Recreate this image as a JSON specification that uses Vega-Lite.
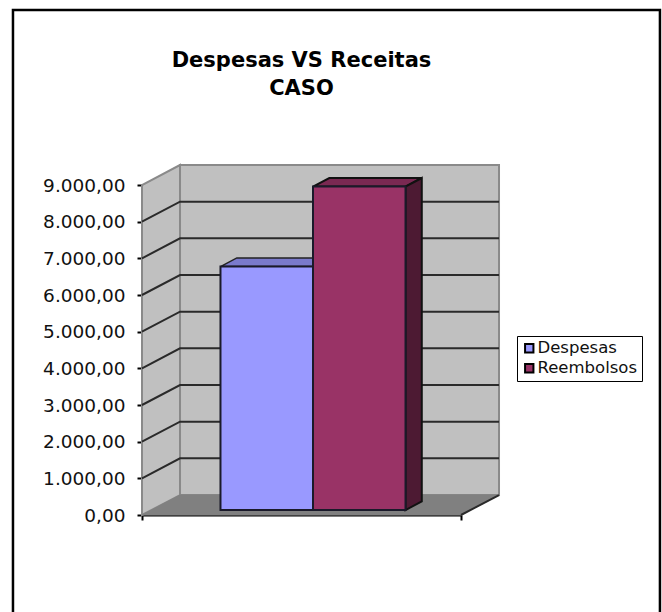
{
"$schema":"https://vega.github.io/schema/vega-lite/v6.json",
"width":319,"height":330,
"autosize":{"type":"none"},
"padding":{"left":142,"top":185,"right":201,"bottom":97},
"background":"white",
"config":{"view":{"stroke":null},"font":"DejaVu Sans"},
"title":{"text":["Despesas VS Receitas","CASO"],"font":"DejaVu Sans","fontWeight":"bold","fontSize":21,"lineHeight":28,"color":"black","anchor":"middle","frame":"group","offset":-94},
"datasets":{
"valores":[{"serie":"Despesas","valor":6640},{"serie":"Reembolsos","valor":8820}],
"paredes":[
{"plano":"lateral","ordem":1,"pos":-0.746,"alt":0},{"plano":"lateral","ordem":2,"pos":-0.335,"alt":545},{"plano":"lateral","ordem":3,"pos":-0.335,"alt":9545},{"plano":"lateral","ordem":4,"pos":-0.746,"alt":9000},
{"plano":"fundo","ordem":1,"pos":-0.335,"alt":545},{"plano":"fundo","ordem":2,"pos":3.114,"alt":545},{"plano":"fundo","ordem":3,"pos":3.114,"alt":9545},{"plano":"fundo","ordem":4,"pos":-0.335,"alt":9545}],
"piso":[{"ordem":1,"pos":-0.746,"alt":0},{"ordem":2,"pos":2.703,"alt":0},{"ordem":3,"pos":3.114,"alt":545},{"ordem":4,"pos":-0.335,"alt":545}],
"grade":[
{"v":1000,"ordem":1,"pos":-0.746,"alt":1000},{"v":1000,"ordem":2,"pos":-0.335,"alt":1545},{"v":1000,"ordem":3,"pos":3.114,"alt":1545},
{"v":2000,"ordem":1,"pos":-0.746,"alt":2000},{"v":2000,"ordem":2,"pos":-0.335,"alt":2545},{"v":2000,"ordem":3,"pos":3.114,"alt":2545},
{"v":3000,"ordem":1,"pos":-0.746,"alt":3000},{"v":3000,"ordem":2,"pos":-0.335,"alt":3545},{"v":3000,"ordem":3,"pos":3.114,"alt":3545},
{"v":4000,"ordem":1,"pos":-0.746,"alt":4000},{"v":4000,"ordem":2,"pos":-0.335,"alt":4545},{"v":4000,"ordem":3,"pos":3.114,"alt":4545},
{"v":5000,"ordem":1,"pos":-0.746,"alt":5000},{"v":5000,"ordem":2,"pos":-0.335,"alt":5545},{"v":5000,"ordem":3,"pos":3.114,"alt":5545},
{"v":6000,"ordem":1,"pos":-0.746,"alt":6000},{"v":6000,"ordem":2,"pos":-0.335,"alt":6545},{"v":6000,"ordem":3,"pos":3.114,"alt":6545},
{"v":7000,"ordem":1,"pos":-0.746,"alt":7000},{"v":7000,"ordem":2,"pos":-0.335,"alt":7545},{"v":7000,"ordem":3,"pos":3.114,"alt":7545},
{"v":8000,"ordem":1,"pos":-0.746,"alt":8000},{"v":8000,"ordem":2,"pos":-0.335,"alt":8545},{"v":8000,"ordem":3,"pos":3.114,"alt":8545},
{"v":0,"ordem":1,"pos":2.703,"alt":0},{"v":0,"ordem":2,"pos":3.114,"alt":545}],
"faces":[
{"face":"topoD","ordem":1,"pos":0.103,"alt":6776},{"face":"topoD","ordem":2,"pos":1.103,"alt":6776},{"face":"topoD","ordem":3,"pos":1.279,"alt":7011},{"face":"topoD","ordem":4,"pos":0.279,"alt":7011},
{"face":"topoR","ordem":1,"pos":1.103,"alt":8956},{"face":"topoR","ordem":2,"pos":2.103,"alt":8956},{"face":"topoR","ordem":3,"pos":2.279,"alt":9191},{"face":"topoR","ordem":4,"pos":1.279,"alt":9191},
{"face":"ladoR","ordem":1,"pos":2.103,"alt":136},{"face":"ladoR","ordem":2,"pos":2.279,"alt":371},{"face":"ladoR","ordem":3,"pos":2.279,"alt":9191},{"face":"ladoR","ordem":4,"pos":2.103,"alt":8956}],
"moldura":[{"ordem":1,"pos":-2.141,"alt":-2800},{"ordem":2,"pos":-2.141,"alt":13773},{"ordem":3,"pos":4.854,"alt":13773},{"ordem":4,"pos":4.854,"alt":-2800}]
},
"resolve":{"scale":{"x":"independent","y":"independent"},"axis":{"x":"independent","y":"independent"}},
"layer":[
{
"encoding":{
"x":{"field":"pos","type":"quantitative","scale":{"domain":[-0.746,2.703],"nice":false,"zero":false},
 "axis":{"title":null,"values":[-0.746,2.703],"labels":false,"grid":false,"domainColor":"black","domainWidth":2,"tickColor":"black","tickWidth":2,"tickSize":5}},
"y":{"field":"alt","type":"quantitative","scale":{"domain":[0,9000],"nice":false},
 "axis":{"title":null,"values":[0,1000,2000,3000,4000,5000,6000,7000,8000,9000],"grid":false,"domainColor":"black","domainWidth":2,"tickColor":"black","tickWidth":2,"tickSize":5,"labelFont":"DejaVu Sans","labelFontSize":18.5,"labelColor":"#111","labelPadding":12,"labelOverlap":false,
 "labelExpr":"replace(format(datum.value,',d'),',','.')+',00'"}},
"order":{"field":"ordem","type":"quantitative"}
},
"layer":[
{"data":{"name":"moldura"},"mark":{"type":"line","stroke":"black","strokeWidth":2.5,"clip":false}},
{"data":{"name":"paredes"},"mark":{"type":"line","interpolate":"linear-closed","fill":"#C0C0C0","stroke":"#8A8A8A","strokeWidth":2},"encoding":{"detail":{"field":"plano"}}},
{"data":{"name":"piso"},"mark":{"type":"line","interpolate":"linear-closed","fill":"#808080","stroke":"#808080","strokeWidth":1}},
{"data":{"name":"grade"},"mark":{"type":"line","stroke":"#2A2A2A","strokeWidth":2},"encoding":{"detail":{"field":"v"}}},
{"data":{"name":"faces"},"transform":[{"filter":"datum.face=='topoD'"}],"mark":{"type":"line","interpolate":"linear-closed","fill":"#7A7ACC","stroke":"#222","strokeWidth":1.5}},
{"data":{"name":"faces"},"transform":[{"filter":"datum.face=='topoR'"}],"mark":{"type":"line","interpolate":"linear-closed","fill":"#7A2952","stroke":"#111","strokeWidth":2}},
{"data":{"name":"faces"},"transform":[{"filter":"datum.face=='ladoR'"}],"mark":{"type":"line","interpolate":"linear-closed","fill":"#4D1A33","stroke":"#111","strokeWidth":2}}
]
},
{
"data":{"name":"valores"},
"mark":{"type":"bar","stroke":"#1a1a2a","strokeWidth":2},
"encoding":{
"x":{"field":"serie","type":"nominal","sort":null,"scale":{"paddingInner":0,"paddingOuter":0.724,"range":[11.5,330.5]},"axis":null},
"y":{"field":"valor","type":"quantitative","stack":null,"scale":{"domain":[0,9000],"nice":false,"range":[325,-5]},"axis":null},
"color":{"field":"serie","type":"nominal","sort":null,"scale":{"domain":["Despesas","Reembolsos"],"range":["#9999FF","#993366"]},
 "legend":{"title":null,"orient":"none","legendX":375,"legendY":151,"strokeColor":"black","fillColor":"white","padding":4,"symbolType":"square","symbolSize":70,"symbolStrokeColor":"black","symbolStrokeWidth":2,"labelFont":"DejaVu Sans","labelFontSize":16.5,"labelColor":"#111","labelOffset":0,"rowPadding":3,"labelExpr":"datum.label+'\u00a0'"}}
}
}
]
}
